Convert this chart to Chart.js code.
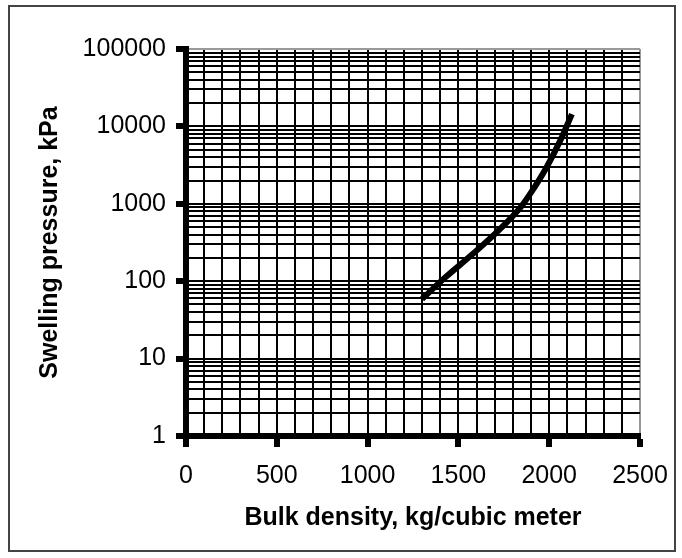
<!DOCTYPE html>
<html>
<head>
<meta charset="utf-8">
<script src="https://cdn.jsdelivr.net/npm/chart.js@4"></script>
<style>
  html, body { margin: 0; padding: 0; background: #fff; }
  #wrap { position: relative; width: 682px; height: 558px; }
</style>
</head>
<body>
<div id="wrap"><canvas id="swellChart" width="682" height="558"></canvas></div>
<script>
// Swelling pressure vs bulk density (log y)
var densityValues = [1300, 1430, 1580, 1730, 1850, 1895, 1985, 2060, 2125];
var pressureValues = [59, 113, 226, 474, 950, 1340, 2950, 6500, 14400];

// Axis ticks
var decadeTicks = [1, 10, 100, 1000, 10000, 100000];
var xMajorTicks = [0, 500, 1000, 1500, 2000, 2500];
var xGridStep = 100;

var xTitle = "Bulk density, kg/cubic meter";
var yTitle = "Swelling pressure, kPa";

var fontFamily = "'Liberation Sans', Arial, sans-serif";

// Minor log ticks 1..9 within each decade
function buildLogTicks() {
  var ticks = [];
  decadeTicks.forEach(function (d, i) {
    if (i === decadeTicks.length - 1) {
      ticks.push({ value: d });
      return;
    }
    for (var m = 1; m <= 9; m++) {
      ticks.push({ value: d * m });
    }
  });
  return ticks;
}

var points = densityValues.map(function (x, i) {
  return { x: x, y: pressureValues[i] };
});

// Outer frame of the picture
var framePlugin = {
  id: "frame",
  beforeDraw: function (chart) {
    var c = chart.ctx;
    c.save();
    c.fillStyle = "#fff";
    c.fillRect(0, 0, chart.width, chart.height);
    c.strokeStyle = "#444";
    c.lineWidth = 2;
    c.strokeRect(9, 6, 666, 545);
    c.restore();
  }
};

var ctx = document.getElementById("swellChart").getContext("2d");

new Chart(ctx, {
  type: "line",
  data: {
    datasets: [
      {
        label: "Swelling pressure",
        data: points,
        borderColor: "#000",
        borderWidth: 6,
        borderCapStyle: "butt",
        pointRadius: 0,
        cubicInterpolationMode: "monotone",
        fill: false
      }
    ]
  },
  plugins: [framePlugin],
  options: {
    responsive: false,
    animation: false,
    layout: {
      padding: { top: 49, right: 42, bottom: 0, left: 0 }
    },
    plugins: {
      legend: { display: false },
      tooltip: { enabled: false }
    },
    scales: {
      x: {
        type: "linear",
        min: 0,
        max: 2500,
        afterFit: function (scale) {
          scale.height = 122;
        },
        border: { display: true, color: "#000", width: 6 },
        grid: {
          lineWidth: 2,
          color: function (c) {
            return c.tick && c.tick.value === 2500 ? "#999" : "#000";
          },
          tickLength: 11,
          tickWidth: 6,
          tickColor: function (c) {
            return c.tick && xMajorTicks.indexOf(c.tick.value) !== -1 ? "#000" : "rgba(0,0,0,0)";
          }
        },
        ticks: {
          stepSize: xGridStep,
          autoSkip: false,
          maxRotation: 0,
          padding: 14,
          color: "#000",
          font: { family: fontFamily, size: 25 },
          callback: function (value) {
            return xMajorTicks.indexOf(value) !== -1 ? String(value) : "";
          }
        },
        title: {
          display: true,
          text: xTitle,
          color: "#000",
          font: { family: fontFamily, size: 25, weight: "bold" },
          padding: { top: 0, bottom: 25 }
        }
      },
      y: {
        type: "logarithmic",
        min: 1,
        max: 100000,
        afterFit: function (scale) {
          scale.width = 186;
        },
        afterBuildTicks: function (scale) {
          scale.ticks = buildLogTicks();
        },
        border: { display: true, color: "#000", width: 6 },
        grid: {
          lineWidth: 2,
          color: function (c) {
            return c.tick && c.tick.value === 100000 ? "#999" : "#000";
          },
          tickLength: 10,
          tickWidth: 6,
          tickColor: function (c) {
            return c.tick && decadeTicks.indexOf(c.tick.value) !== -1 ? "#000" : "rgba(0,0,0,0)";
          }
        },
        ticks: {
          autoSkip: false,
          padding: 10,
          color: "#000",
          font: { family: fontFamily, size: 25 },
          callback: function (value) {
            return decadeTicks.indexOf(value) !== -1 ? String(value) : "";
          }
        },
        title: {
          display: true,
          text: yTitle,
          color: "#000",
          font: { family: fontFamily, size: 25, weight: "bold" },
          padding: { top: 35, bottom: 0 }
        }
      }
    }
  }
});
</script>
</body>
</html>
